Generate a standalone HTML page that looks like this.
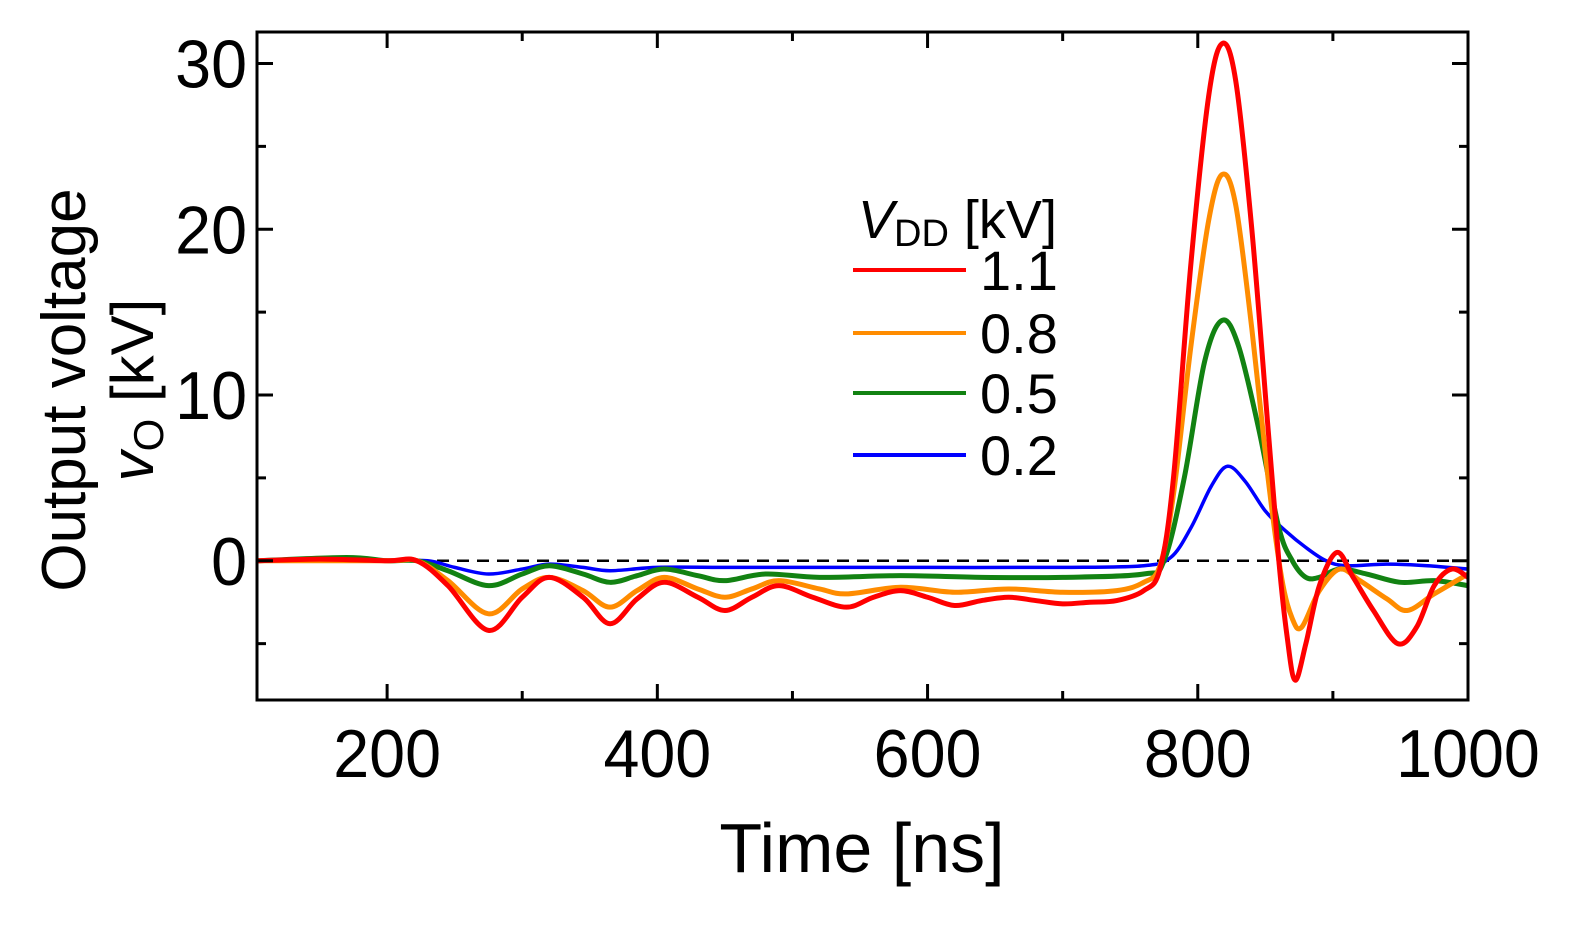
<!DOCTYPE html>
<html><head><meta charset="utf-8"><style>
body{margin:0;background:#fff;}
svg text{font-family:"Liberation Sans",Arial,sans-serif;fill:#000;}
</style></head><body>
<svg id="chart" width="1591" height="926" xmlns="http://www.w3.org/2000/svg">
<g id="marks"></g>
<g id="axes"></g>
</svg>
<script>
const xTicks=[200,400,600,800,1000];
const yTicks=[0,10,20,30];
const seriesNames=["1.1","0.8","0.5","0.2"];
const seriesColors=["#ff0000","#ff8c00","#128212","#0000ff"];
const tRed=[104,150,200,222,245,275,300,320,345,365,385,405,430,450,470,490,515,540,560,580,600,620,640,660,680,700,720,740,760,772,782,795,808,818,828,840,852,860,866,872,880,890,903,915,930,948,962,975,988,1000];
const vRed=[0,0.1,0,0,-1.5,-4.2,-2.2,-1,-2.2,-3.8,-2.3,-1.3,-2.2,-3,-2.2,-1.5,-2.2,-2.8,-2.2,-1.8,-2.2,-2.7,-2.4,-2.2,-2.4,-2.6,-2.5,-2.4,-1.8,-0.5,5,18,28,31.2,29,20,8,0,-4.5,-7.2,-5,-1.5,0.5,-1,-3,-5,-4,-1.5,-0.5,-1];
const tOr=[104,200,222,245,275,300,320,345,365,385,405,430,450,470,490,520,540,580,620,660,700,740,760,772,782,795,808,818,828,840,852,862,870,877,890,905,920,940,955,975,1000];
const vOr=[0,0,0,-1.2,-3.2,-1.7,-1,-1.8,-2.8,-1.8,-1,-1.7,-2.2,-1.7,-1.2,-1.7,-2,-1.6,-1.9,-1.7,-1.9,-1.8,-1.3,-0.3,4,13,20.5,23.3,21.5,14,5,-1,-3.5,-4,-1.8,-0.5,-1.2,-2.3,-3,-2,-0.8];
const tGr=[104,170,200,222,245,275,300,320,345,365,385,405,430,450,480,520,580,640,700,760,775,790,805,818,830,845,860,870,880,890,905,925,950,975,1000];
const vGr=[0,0.2,0,0,-0.6,-1.5,-0.8,-0.3,-0.8,-1.3,-0.9,-0.5,-0.9,-1.2,-0.8,-1,-0.9,-1,-1,-0.8,0,5,12,14.5,13,8,2,0,-1,-1,-0.5,-0.8,-1.3,-1.2,-1.5];
const tBl=[104,200,230,250,275,300,320,345,365,400,450,500,600,700,760,780,795,810,822,835,850,865,880,895,910,940,970,1000];
const vBl=[0,0,0,-0.4,-0.8,-0.5,-0.2,-0.4,-0.6,-0.4,-0.4,-0.4,-0.4,-0.4,-0.3,0.2,2,4.5,5.7,4.8,3,1.8,0.8,0,-0.3,-0.2,-0.3,-0.5];
const series=[[tRed,vRed],[tOr,vOr],[tGr,vGr],[tBl,vBl]];

const L=257,R=1468,T=32,B=700;
const xMin=103.7,xMax=1000,yMin=-8.4,yMax=31.9;
const X=v=>L+(v-xMin)/(xMax-xMin)*(R-L);
const Y=v=>T+(yMax-v)/(yMax-yMin)*(B-T);
const NS="http://www.w3.org/2000/svg";
function mk(tag,attrs,parent,text){const e=document.createElementNS(NS,tag);for(const k in attrs)e.setAttribute(k,attrs[k]);if(text!==undefined)e.textContent=text;parent.appendChild(e);return e;}
const marks=document.getElementById('marks'),axes=document.getElementById('axes');

const zl=mk('line',{x1:L,x2:R,y1:Y(0),y2:Y(0),stroke:'#000','stroke-width':2.5,'stroke-dasharray':'12,8'},marks);



function smooth(ts,vs){let p=[];for(let i=0;i<ts.length;i++)p.push([X(ts[i]),Y(vs[i])]);
 let d='M'+p[0][0]+','+p[0][1];
 for(let i=0;i<p.length-1;i++){const p0=p[Math.max(0,i-1)],p1=p[i],p2=p[i+1],p3=p[Math.min(p.length-1,i+2)];
 const c1=[p1[0]+(p2[0]-p0[0])/6,p1[1]+(p2[1]-p0[1])/6],c2=[p2[0]-(p3[0]-p1[0])/6,p2[1]-(p3[1]-p1[1])/6];
 d+=` C${c1[0]},${c1[1]} ${c2[0]},${c2[1]} ${p2[0]},${p2[1]}`;}return d;}
for(let s=3;s>=0;s--){
 const pth=mk('path',{d:smooth(series[s][0],series[s][1]),fill:'none',stroke:seriesColors[s],'stroke-width':s==3?3.5:5,'stroke-linejoin':'round'},marks);
 
 
}
const fr=mk('rect',{x:L,y:T,width:R-L,height:B-T,fill:'none',stroke:'#000','stroke-width':3},axes);


for(let v=200;v<=1000;v+=100){const x=X(v),len=v%200==0?16:9;
 mk('line',{x1:x,x2:x,y1:B,y2:B-len,stroke:'#000','stroke-width':3},axes);
 mk('line',{x1:x,x2:x,y1:T,y2:T+len,stroke:'#000','stroke-width':3},axes);}
xTicks.forEach(v=>{const t=mk('text',{transform:`translate(${X(v)},777) scale(0.95,1)`,'font-size':68,'text-anchor':'middle'},axes,String(v));
 
 });
for(let v=-5;v<=30;v+=5){const y=Y(v),len=v%10==0?16:9;
 mk('line',{x1:L,x2:L+len,y1:y,y2:y,stroke:'#000','stroke-width':3},axes);
 mk('line',{x1:R,x2:R-len,y1:y,y2:y,stroke:'#000','stroke-width':3},axes);}
yTicks.forEach(v=>{const t=mk('text',{transform:`translate(247,${Y(v)+24}) scale(0.95,1)`,'font-size':68,'text-anchor':'end'},axes,String(v));
 
 });
const xt=mk('text',{x:862,y:872,'font-size':70,'text-anchor':'middle'},axes,'Time [ns]');


const yt=mk('text',{transform:'translate(85,390) rotate(-90)','font-size':62,'text-anchor':'middle'},axes,'Output voltage');


const yt2=mk('text',{transform:'translate(153,390) rotate(-90)','font-size':60,'text-anchor':'middle'},axes);


yt2.innerHTML='<tspan font-style="italic">v</tspan><tspan font-size="42" dy="10">O</tspan><tspan dy="-10"> [kV]</tspan>';
const lg=mk('g',{},axes);


const lt=mk('text',{x:858,y:238,'font-size':54},lg);
lt.innerHTML='<tspan font-style="italic">V</tspan><tspan font-size="38" dy="8">DD</tspan><tspan dy="-8"> [kV]</tspan>';
const ly=[270,333,393,455];
seriesNames.forEach((n,i)=>{
 const e=mk('g',{},lg);
 
 
 mk('line',{x1:853,x2:966,y1:ly[i],y2:ly[i],stroke:seriesColors[i],'stroke-width':4},e);
 mk('text',{x:980,y:ly[i]+20,'font-size':56},e,n);
});
</script>
</body></html>
